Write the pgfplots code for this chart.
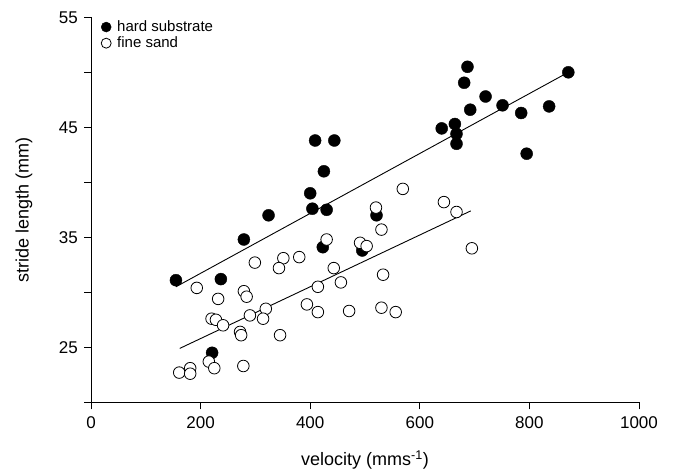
\documentclass[border=0pt]{standalone}
\usepackage{fontspec}
\setmainfont{Liberation Sans}
\usepackage{pgfplots}
\pgfplotsset{compat=1.18}
\begin{document}
\fontsize{15}{18}\selectfont
\begin{tikzpicture}
\path[use as bounding box] (-91pt,-71pt) rectangle (584pt,402.3pt);
\begin{axis}[
  scale only axis, width=548pt, height=385pt,
  at={(0,0)}, anchor=south west,
  xmin=0, xmax=1000, ymin=20, ymax=55,
  axis x line*=bottom, axis y line*=left,
  axis line style={-, line width=0.9pt},
  tick align=outside,
  major tick length=7pt, minor tick length=7pt,
  every tick/.style={black, line width=0.9pt},
  xtick={0,200,400,600,800,1000},
  ytick={25,35,45,55},
  minor ytick={20,30,40,50},
  /pgf/number format/assume math mode=true,
  /pgf/number format/1000 sep={},
  tick label style={font=\fontsize{17}{20}\selectfont},
  xticklabel style={yshift=-2pt},
  yticklabel style={xshift=-1pt},
  xlabel={velocity (mms\textsuperscript{-1})},
  ylabel={stride length (mm)},
  xlabel style={anchor=center, at={([yshift=-58pt]axis description cs:0.5,0)}, font=\fontsize{18}{21}\selectfont},
  ylabel style={anchor=center, at={([xshift=-67pt]axis description cs:0,0.5)}, font=\fontsize{18}{21}\selectfont},
  legend style={at={(0,1)}, anchor=north west, draw=none, fill=none,
    font=\fontsize{15}{18}\selectfont, row sep=-1pt, xshift=6pt, yshift=1pt},
  legend cell align=left,
  legend image code/.code={\draw[#1, mark size=5pt] plot coordinates {(0pt,0pt)}; \path[draw=none, fill=none] (-6pt,0pt) (9pt,0pt);},
  clip=false,
]
\addplot[only marks, mark=*, mark size=6pt, mark options={fill=black, draw=black}] coordinates {
(687,50.5) (681,49.05) (720,47.8) (692,46.6) (751,47.0) (785,46.3) (836,46.9) (871,50.0)
(640,44.9) (664,45.3) (667,44.4) (667,43.5) (795,42.6)
(409,43.8) (444,43.8) (425,41.0) (400,39.0) (404,37.6) (430,37.5)
(324,37.0) (521,37.0) (279,34.8) (423,34.1) (495,33.8)
(155,31.1) (237,31.2) (221,24.5)
};
\addlegendentry{hard substrate}
\addplot[only marks, mark=*, mark size=5.8pt, mark options={fill=white, draw=black, line width=0.8pt}] coordinates {
(569,39.4) (520,37.7) (644,38.2) (667,37.3) (530,35.7) (430,34.8) (491,34.5) (503,34.2)
(695,34.0) (380,33.2) (351,33.1) (299,32.7) (343,32.2) (443,32.2) (533,31.6) (456,30.9)
(193,30.4) (414,30.5) (279,30.1) (284,29.6) (232,29.4) (394,28.9) (530,28.6) (319,28.5)
(471,28.3) (414,28.2) (556,28.2) (290,27.9) (314,27.6) (220,27.6) (228,27.5) (241,27.0)
(272,26.4) (274,26.1) (345,26.1) (215,23.7) (278,23.3) (225,23.1) (181,23.1) (161,22.7)
(181,22.6)
};
\addlegendentry{fine sand}
\addplot[no marks, black, line width=0.9pt, forget plot] coordinates {(155,30.5) (871,50.0)};
\addplot[no marks, black, line width=0.9pt, forget plot] coordinates {(162,24.9) (693,37.4)};
\end{axis}
\end{tikzpicture}
\end{document}
